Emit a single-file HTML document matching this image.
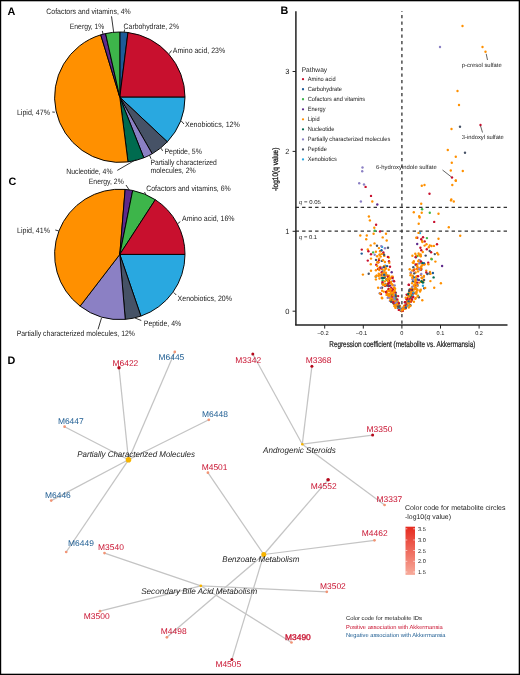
<!DOCTYPE html>
<html><head><meta charset="utf-8"><title>Figure</title>
<style>
html,body{margin:0;padding:0;background:#fff;}
body{width:520px;height:675px;overflow:hidden;position:relative;}
svg{position:absolute;left:0;top:0;font-family:"Liberation Sans", sans-serif;will-change:transform;text-rendering:geometricPrecision;}
</style></head>
<body>
<svg width="520" height="675" viewBox="0 0 520 675" fill="#222">
<rect x="0" y="0" width="520" height="675" fill="#fff"/>
<path d="M119.80,97.20 L119.80,32.00 A65.2,65.2 0 0 1 127.97,32.51 Z" fill="#1d5b98" stroke="#000" stroke-width="0.95" stroke-linejoin="round"/>
<path d="M119.80,97.20 L127.97,32.51 A65.2,65.2 0 0 1 185.00,97.20 Z" fill="#c8102e" stroke="#000" stroke-width="0.95" stroke-linejoin="round"/>
<path d="M119.80,97.20 L185.00,97.20 A65.2,65.2 0 0 1 167.33,141.83 Z" fill="#29a8e0" stroke="#000" stroke-width="0.95" stroke-linejoin="round"/>
<path d="M119.80,97.20 L167.33,141.83 A65.2,65.2 0 0 1 152.20,153.78 Z" fill="#465266" stroke="#000" stroke-width="0.95" stroke-linejoin="round"/>
<path d="M119.80,97.20 L152.20,153.78 A65.2,65.2 0 0 1 143.80,157.82 Z" fill="#8b80c4" stroke="#000" stroke-width="0.95" stroke-linejoin="round"/>
<path d="M119.80,97.20 L143.80,157.82 A65.2,65.2 0 0 1 127.97,161.89 Z" fill="#006b4f" stroke="#000" stroke-width="0.95" stroke-linejoin="round"/>
<path d="M119.80,97.20 L127.97,161.89 A65.2,65.2 0 0 1 100.74,34.85 Z" fill="#ff9000" stroke="#000" stroke-width="0.95" stroke-linejoin="round"/>
<path d="M119.80,97.20 L100.74,34.85 A65.2,65.2 0 0 1 105.58,33.57 Z" fill="#5e2a8c" stroke="#000" stroke-width="0.95" stroke-linejoin="round"/>
<path d="M119.80,97.20 L105.58,33.57 A65.2,65.2 0 0 1 119.80,32.00 Z" fill="#3db54a" stroke="#000" stroke-width="0.95" stroke-linejoin="round"/>
<text x="46.30" y="13.60" font-size="7.8" textLength="84.50" lengthAdjust="spacingAndGlyphs">Cofactors and vitamins, 4%</text>
<text x="69.80" y="28.70" font-size="7.8" textLength="34.60" lengthAdjust="spacingAndGlyphs">Energy, 1%</text>
<text x="123.60" y="28.70" font-size="7.8" textLength="55.40" lengthAdjust="spacingAndGlyphs">Carbohydrate, 2%</text>
<text x="172.80" y="52.70" font-size="7.8" textLength="52.30" lengthAdjust="spacingAndGlyphs">Amino acid, 23%</text>
<text x="184.90" y="127.40" font-size="7.8" textLength="55.00" lengthAdjust="spacingAndGlyphs">Xenobiotics, 12%</text>
<text x="164.40" y="154.30" font-size="7.8" textLength="37.50" lengthAdjust="spacingAndGlyphs">Peptide, 5%</text>
<text x="150.40" y="164.60" font-size="7.8" textLength="66.40" lengthAdjust="spacingAndGlyphs">Partially characterized</text>
<text x="150.40" y="173.20" font-size="7.8" textLength="45.40" lengthAdjust="spacingAndGlyphs">molecules, 2%</text>
<text x="66.20" y="173.70" font-size="7.8" textLength="46.40" lengthAdjust="spacingAndGlyphs">Nucleotide, 4%</text>
<text x="16.90" y="114.90" font-size="7.8" textLength="33.10" lengthAdjust="spacingAndGlyphs">Lipid, 47%</text>
<line x1="111.50" y1="16.30" x2="113.70" y2="32.50" stroke="#111" stroke-width="0.85"/>
<line x1="102.30" y1="30.90" x2="103.00" y2="34.00" stroke="#111" stroke-width="0.85"/>
<line x1="124.60" y1="29.50" x2="124.10" y2="32.30" stroke="#111" stroke-width="0.85"/>
<line x1="169.20" y1="53.70" x2="171.50" y2="50.50" stroke="#111" stroke-width="0.85"/>
<line x1="181.30" y1="121.00" x2="184.00" y2="124.00" stroke="#111" stroke-width="0.85"/>
<line x1="161.20" y1="148.30" x2="162.60" y2="150.90" stroke="#111" stroke-width="0.85"/>
<line x1="149.60" y1="155.20" x2="151.00" y2="158.80" stroke="#111" stroke-width="0.85"/>
<line x1="117.30" y1="170.40" x2="135.60" y2="159.80" stroke="#111" stroke-width="0.85"/>
<line x1="52.30" y1="112.00" x2="54.80" y2="112.20" stroke="#111" stroke-width="0.85"/>
<path d="M119.80,254.40 L185.00,254.40 A65.2,65.2 0 0 1 140.92,316.08 Z" fill="#29a8e0" stroke="#000" stroke-width="0.95" stroke-linejoin="round"/>
<path d="M119.80,254.40 L140.92,316.08 A65.2,65.2 0 0 1 125.26,319.37 Z" fill="#465266" stroke="#000" stroke-width="0.95" stroke-linejoin="round"/>
<path d="M119.80,254.40 L125.26,319.37 A65.2,65.2 0 0 1 80.11,306.13 Z" fill="#8b80c4" stroke="#000" stroke-width="0.95" stroke-linejoin="round"/>
<path d="M119.80,254.40 L80.11,306.13 A65.2,65.2 0 0 1 125.14,189.42 Z" fill="#ff9000" stroke="#000" stroke-width="0.95" stroke-linejoin="round"/>
<path d="M119.80,254.40 L125.14,189.42 A65.2,65.2 0 0 1 132.69,190.49 Z" fill="#5e2a8c" stroke="#000" stroke-width="0.95" stroke-linejoin="round"/>
<path d="M119.80,254.40 L132.69,190.49 A65.2,65.2 0 0 1 155.31,199.72 Z" fill="#3db54a" stroke="#000" stroke-width="0.95" stroke-linejoin="round"/>
<path d="M119.80,254.40 L155.31,199.72 A65.2,65.2 0 0 1 185.00,254.40 Z" fill="#c8102e" stroke="#000" stroke-width="0.95" stroke-linejoin="round"/>
<text x="88.75" y="184.40" font-size="7.8" textLength="35.00" lengthAdjust="spacingAndGlyphs">Energy, 2%</text>
<text x="146.25" y="190.60" font-size="7.8" textLength="84.50" lengthAdjust="spacingAndGlyphs">Cofactors and vitamins, 6%</text>
<text x="182.00" y="221.20" font-size="7.8" textLength="52.50" lengthAdjust="spacingAndGlyphs">Amino acid, 16%</text>
<text x="17.00" y="232.60" font-size="7.8" textLength="33.00" lengthAdjust="spacingAndGlyphs">Lipid, 41%</text>
<text x="177.50" y="300.90" font-size="7.8" textLength="54.50" lengthAdjust="spacingAndGlyphs">Xenobiotics, 20%</text>
<text x="143.75" y="325.60" font-size="7.8" textLength="37.50" lengthAdjust="spacingAndGlyphs">Peptide, 4%</text>
<text x="16.70" y="336.40" font-size="7.8" textLength="118.30" lengthAdjust="spacingAndGlyphs">Partially characterized molecules, 12%</text>
<line x1="126.00" y1="185.00" x2="129.40" y2="190.20" stroke="#111" stroke-width="0.85"/>
<line x1="144.50" y1="192.00" x2="145.80" y2="194.60" stroke="#111" stroke-width="0.85"/>
<line x1="177.80" y1="223.60" x2="180.30" y2="221.60" stroke="#111" stroke-width="0.85"/>
<line x1="55.30" y1="230.00" x2="58.70" y2="230.90" stroke="#111" stroke-width="0.85"/>
<line x1="173.75" y1="292.50" x2="176.25" y2="295.00" stroke="#111" stroke-width="0.85"/>
<line x1="135.00" y1="318.00" x2="141.25" y2="320.50" stroke="#111" stroke-width="0.85"/>
<line x1="101.50" y1="317.90" x2="98.00" y2="329.40" stroke="#111" stroke-width="0.85"/>
<text x="7.60" y="14.60" font-size="10.8" fill="#000" font-weight="bold">A</text>
<text x="280.40" y="14.20" font-size="10.8" fill="#000" font-weight="bold">B</text>
<text x="8.60" y="185.00" font-size="10.8" fill="#000" font-weight="bold">C</text>
<text x="7.50" y="363.50" font-size="10.8" fill="#000" font-weight="bold">D</text>
<line x1="401.90" y1="10.90" x2="401.90" y2="324.50" stroke="#3a3a3a" stroke-width="1.35" stroke-dasharray="3.2,3.3" stroke-dashoffset="2.3"/>
<line x1="295.60" y1="207.30" x2="507.50" y2="207.30" stroke="#333" stroke-width="1.3" stroke-dasharray="3.4,3.1"/>
<line x1="295.60" y1="231.20" x2="507.50" y2="231.20" stroke="#333" stroke-width="1.3" stroke-dasharray="3.4,3.1"/>
<g><circle cx="395.3" cy="297.7" r="1.2" fill="#ff9000"/><circle cx="386.5" cy="279.6" r="1.2" fill="#ff9000"/><circle cx="390.0" cy="266.8" r="1.2" fill="#c8102e"/><circle cx="388.8" cy="257.5" r="1.2" fill="#ff9000"/><circle cx="388.6" cy="280.4" r="1.2" fill="#ff9000"/><circle cx="395.0" cy="298.0" r="1.2" fill="#c8102e"/><circle cx="392.0" cy="296.9" r="1.2" fill="#ff9000"/><circle cx="375.9" cy="276.7" r="1.2" fill="#29a8e0"/><circle cx="384.2" cy="277.6" r="1.2" fill="#8b80c4"/><circle cx="395.8" cy="296.7" r="1.2" fill="#ff9000"/><circle cx="371.0" cy="254.2" r="1.2" fill="#c8102e"/><circle cx="388.5" cy="294.4" r="1.2" fill="#ff9000"/><circle cx="397.9" cy="301.4" r="1.2" fill="#ff9000"/><circle cx="389.9" cy="300.9" r="1.2" fill="#8b80c4"/><circle cx="387.0" cy="291.4" r="1.2" fill="#ff9000"/><circle cx="393.3" cy="298.0" r="1.2" fill="#ff9000"/><circle cx="401.2" cy="310.7" r="1.2" fill="#ff9000"/><circle cx="382.1" cy="246.9" r="1.2" fill="#29a8e0"/><circle cx="380.4" cy="266.9" r="1.2" fill="#ff9000"/><circle cx="388.8" cy="290.9" r="1.2" fill="#ff9000"/><circle cx="400.8" cy="309.8" r="1.2" fill="#ff9000"/><circle cx="394.0" cy="303.9" r="1.2" fill="#ff9000"/><circle cx="383.4" cy="254.1" r="1.2" fill="#ff9000"/><circle cx="401.0" cy="310.0" r="1.2" fill="#ff9000"/><circle cx="396.2" cy="302.4" r="1.2" fill="#465266"/><circle cx="379.3" cy="270.0" r="1.2" fill="#ff9000"/><circle cx="397.8" cy="307.8" r="1.2" fill="#1d5b98"/><circle cx="386.8" cy="279.2" r="1.2" fill="#ff9000"/><circle cx="393.2" cy="291.0" r="1.2" fill="#ff9000"/><circle cx="392.9" cy="285.3" r="1.2" fill="#ff9000"/><circle cx="388.3" cy="297.2" r="1.2" fill="#ff9000"/><circle cx="399.0" cy="307.4" r="1.2" fill="#c8102e"/><circle cx="395.8" cy="292.7" r="1.2" fill="#465266"/><circle cx="386.8" cy="293.6" r="1.2" fill="#c8102e"/><circle cx="388.8" cy="280.4" r="1.2" fill="#c8102e"/><circle cx="374.5" cy="243.4" r="1.2" fill="#ff9000"/><circle cx="401.3" cy="310.4" r="1.2" fill="#ff9000"/><circle cx="392.0" cy="284.2" r="1.2" fill="#ff9000"/><circle cx="376.2" cy="264.7" r="1.2" fill="#c8102e"/><circle cx="391.4" cy="290.3" r="1.2" fill="#ff9000"/><circle cx="386.4" cy="292.0" r="1.2" fill="#c8102e"/><circle cx="385.5" cy="274.5" r="1.2" fill="#c8102e"/><circle cx="381.3" cy="246.1" r="1.2" fill="#8b80c4"/><circle cx="388.1" cy="280.9" r="1.2" fill="#ff9000"/><circle cx="391.9" cy="301.4" r="1.2" fill="#c8102e"/><circle cx="382.7" cy="271.1" r="1.2" fill="#29a8e0"/><circle cx="389.4" cy="294.1" r="1.2" fill="#ff9000"/><circle cx="399.3" cy="307.0" r="1.2" fill="#1d5b98"/><circle cx="367.8" cy="249.5" r="1.2" fill="#ff9000"/><circle cx="378.8" cy="273.7" r="1.2" fill="#ff9000"/><circle cx="396.1" cy="301.1" r="1.2" fill="#ff9000"/><circle cx="393.7" cy="299.6" r="1.2" fill="#ff9000"/><circle cx="400.0" cy="306.3" r="1.2" fill="#ff9000"/><circle cx="391.7" cy="296.3" r="1.2" fill="#c8102e"/><circle cx="371.0" cy="258.6" r="1.2" fill="#ff9000"/><circle cx="377.3" cy="262.2" r="1.2" fill="#ff9000"/><circle cx="386.6" cy="279.8" r="1.2" fill="#3db54a"/><circle cx="362.9" cy="274.6" r="1.2" fill="#ff9000"/><circle cx="384.8" cy="281.4" r="1.2" fill="#ff9000"/><circle cx="393.2" cy="299.0" r="1.2" fill="#c8102e"/><circle cx="378.3" cy="262.2" r="1.2" fill="#c8102e"/><circle cx="381.8" cy="260.9" r="1.2" fill="#465266"/><circle cx="394.4" cy="303.3" r="1.2" fill="#c8102e"/><circle cx="386.7" cy="240.5" r="1.2" fill="#ff9000"/><circle cx="399.1" cy="305.7" r="1.2" fill="#ff9000"/><circle cx="401.8" cy="311.0" r="1.2" fill="#ff9000"/><circle cx="399.9" cy="308.5" r="1.2" fill="#ff9000"/><circle cx="398.1" cy="296.1" r="1.2" fill="#c8102e"/><circle cx="398.3" cy="306.3" r="1.2" fill="#ff9000"/><circle cx="394.8" cy="301.1" r="1.2" fill="#ff9000"/><circle cx="382.7" cy="280.4" r="1.2" fill="#3db54a"/><circle cx="386.3" cy="275.0" r="1.2" fill="#1d5b98"/><circle cx="384.6" cy="285.6" r="1.2" fill="#465266"/><circle cx="389.9" cy="290.6" r="1.2" fill="#8b80c4"/><circle cx="382.7" cy="237.4" r="1.2" fill="#ff9000"/><circle cx="393.0" cy="299.7" r="1.2" fill="#ff9000"/><circle cx="387.5" cy="285.4" r="1.2" fill="#ff9000"/><circle cx="385.3" cy="284.4" r="1.2" fill="#1d5b98"/><circle cx="386.9" cy="284.6" r="1.2" fill="#ff9000"/><circle cx="398.2" cy="302.7" r="1.2" fill="#ff9000"/><circle cx="395.9" cy="299.0" r="1.2" fill="#ff9000"/><circle cx="392.4" cy="294.6" r="1.2" fill="#5e2a8c"/><circle cx="384.5" cy="270.8" r="1.2" fill="#ff9000"/><circle cx="397.3" cy="306.1" r="1.2" fill="#ff9000"/><circle cx="382.3" cy="283.4" r="1.2" fill="#1d5b98"/><circle cx="397.0" cy="305.7" r="1.2" fill="#ff9000"/><circle cx="379.7" cy="293.3" r="1.2" fill="#8b80c4"/><circle cx="385.3" cy="266.5" r="1.2" fill="#ff9000"/><circle cx="391.7" cy="300.4" r="1.2" fill="#ff9000"/><circle cx="397.5" cy="305.3" r="1.2" fill="#c8102e"/><circle cx="371.0" cy="270.7" r="1.2" fill="#ff9000"/><circle cx="384.9" cy="285.1" r="1.2" fill="#c8102e"/><circle cx="385.2" cy="276.5" r="1.2" fill="#ff9000"/><circle cx="389.7" cy="290.8" r="1.2" fill="#ff9000"/><circle cx="394.9" cy="298.2" r="1.2" fill="#c8102e"/><circle cx="399.3" cy="308.5" r="1.2" fill="#ff9000"/><circle cx="376.0" cy="259.9" r="1.2" fill="#465266"/><circle cx="396.7" cy="303.9" r="1.2" fill="#1d5b98"/><circle cx="388.8" cy="269.7" r="1.2" fill="#ff9000"/><circle cx="394.7" cy="285.4" r="1.2" fill="#8b80c4"/><circle cx="380.3" cy="251.1" r="1.2" fill="#c8102e"/><circle cx="387.9" cy="283.7" r="1.2" fill="#ff9000"/><circle cx="387.4" cy="291.3" r="1.2" fill="#ff9000"/><circle cx="389.6" cy="278.8" r="1.2" fill="#ff9000"/><circle cx="393.6" cy="296.9" r="1.2" fill="#1d5b98"/><circle cx="383.3" cy="284.7" r="1.2" fill="#ff9000"/><circle cx="400.5" cy="310.6" r="1.2" fill="#ff9000"/><circle cx="394.4" cy="297.2" r="1.2" fill="#ff9000"/><circle cx="387.8" cy="275.8" r="1.2" fill="#ff9000"/><circle cx="385.2" cy="265.8" r="1.2" fill="#29a8e0"/><circle cx="395.5" cy="307.9" r="1.2" fill="#ff9000"/><circle cx="393.4" cy="280.8" r="1.2" fill="#ff9000"/><circle cx="388.7" cy="286.1" r="1.2" fill="#465266"/><circle cx="391.2" cy="291.0" r="1.2" fill="#ff9000"/><circle cx="390.1" cy="283.3" r="1.2" fill="#ff9000"/><circle cx="396.0" cy="301.8" r="1.2" fill="#ff9000"/><circle cx="389.7" cy="298.0" r="1.2" fill="#ff9000"/><circle cx="394.7" cy="302.2" r="1.2" fill="#ff9000"/><circle cx="392.9" cy="299.2" r="1.2" fill="#ff9000"/><circle cx="392.1" cy="301.9" r="1.2" fill="#ff9000"/><circle cx="401.5" cy="310.6" r="1.2" fill="#465266"/><circle cx="377.1" cy="256.3" r="1.2" fill="#ff9000"/><circle cx="384.3" cy="255.9" r="1.2" fill="#ff9000"/><circle cx="381.6" cy="274.8" r="1.2" fill="#5e2a8c"/><circle cx="382.1" cy="298.3" r="1.2" fill="#ff9000"/><circle cx="386.6" cy="284.7" r="1.2" fill="#ff9000"/><circle cx="393.5" cy="303.2" r="1.2" fill="#465266"/><circle cx="382.8" cy="284.5" r="1.2" fill="#ff9000"/><circle cx="389.0" cy="275.8" r="1.2" fill="#ff9000"/><circle cx="393.7" cy="299.1" r="1.2" fill="#ff9000"/><circle cx="391.1" cy="281.8" r="1.2" fill="#ff9000"/><circle cx="379.0" cy="269.0" r="1.2" fill="#c8102e"/><circle cx="393.0" cy="294.0" r="1.2" fill="#ff9000"/><circle cx="386.3" cy="285.0" r="1.2" fill="#ff9000"/><circle cx="387.1" cy="266.1" r="1.2" fill="#1d5b98"/><circle cx="391.0" cy="294.3" r="1.2" fill="#006b4f"/><circle cx="398.4" cy="307.2" r="1.2" fill="#ff9000"/><circle cx="392.6" cy="301.6" r="1.2" fill="#ff9000"/><circle cx="384.1" cy="254.7" r="1.2" fill="#465266"/><circle cx="395.2" cy="298.6" r="1.2" fill="#29a8e0"/><circle cx="394.1" cy="291.6" r="1.2" fill="#ff9000"/><circle cx="396.6" cy="301.5" r="1.2" fill="#8b80c4"/><circle cx="375.9" cy="251.7" r="1.2" fill="#ff9000"/><circle cx="378.2" cy="262.3" r="1.2" fill="#ff9000"/><circle cx="387.7" cy="297.8" r="1.2" fill="#8b80c4"/><circle cx="377.2" cy="266.0" r="1.2" fill="#ff9000"/><circle cx="385.9" cy="268.3" r="1.2" fill="#ff9000"/><circle cx="378.9" cy="260.0" r="1.2" fill="#c8102e"/><circle cx="368.7" cy="273.8" r="1.2" fill="#465266"/><circle cx="383.0" cy="283.2" r="1.2" fill="#ff9000"/><circle cx="393.6" cy="298.5" r="1.2" fill="#ff9000"/><circle cx="391.3" cy="287.8" r="1.2" fill="#c8102e"/><circle cx="395.6" cy="302.6" r="1.2" fill="#8b80c4"/><circle cx="395.6" cy="298.7" r="1.2" fill="#3db54a"/><circle cx="394.9" cy="292.4" r="1.2" fill="#c8102e"/><circle cx="390.3" cy="297.7" r="1.2" fill="#8b80c4"/><circle cx="394.7" cy="302.5" r="1.2" fill="#c8102e"/><circle cx="384.6" cy="277.7" r="1.2" fill="#465266"/><circle cx="366.2" cy="239.2" r="1.2" fill="#ff9000"/><circle cx="401.4" cy="310.2" r="1.2" fill="#465266"/><circle cx="380.1" cy="251.3" r="1.2" fill="#ff9000"/><circle cx="388.0" cy="276.8" r="1.2" fill="#c8102e"/><circle cx="392.1" cy="302.1" r="1.2" fill="#ff9000"/><circle cx="379.5" cy="254.7" r="1.2" fill="#ff9000"/><circle cx="386.0" cy="233.7" r="1.2" fill="#ff9000"/><circle cx="382.4" cy="269.2" r="1.2" fill="#ff9000"/><circle cx="391.7" cy="290.9" r="1.2" fill="#c8102e"/><circle cx="394.1" cy="287.8" r="1.2" fill="#ff9000"/><circle cx="391.7" cy="296.7" r="1.2" fill="#ff9000"/><circle cx="375.9" cy="270.3" r="1.2" fill="#ff9000"/><circle cx="396.0" cy="304.9" r="1.2" fill="#29a8e0"/><circle cx="378.5" cy="276.0" r="1.2" fill="#ff9000"/><circle cx="395.9" cy="304.2" r="1.2" fill="#ff9000"/><circle cx="382.0" cy="277.5" r="1.2" fill="#ff9000"/><circle cx="381.0" cy="294.0" r="1.2" fill="#c8102e"/><circle cx="390.6" cy="292.0" r="1.2" fill="#ff9000"/><circle cx="389.3" cy="285.9" r="1.2" fill="#c8102e"/><circle cx="392.9" cy="289.2" r="1.2" fill="#c8102e"/><circle cx="386.0" cy="274.5" r="1.2" fill="#29a8e0"/><circle cx="392.8" cy="276.8" r="1.2" fill="#ff9000"/><circle cx="381.7" cy="272.2" r="1.2" fill="#c8102e"/><circle cx="396.2" cy="296.2" r="1.2" fill="#ff9000"/><circle cx="379.7" cy="254.8" r="1.2" fill="#ff9000"/><circle cx="393.4" cy="292.2" r="1.2" fill="#ff9000"/><circle cx="399.4" cy="305.7" r="1.2" fill="#465266"/><circle cx="389.1" cy="289.1" r="1.2" fill="#29a8e0"/><circle cx="395.3" cy="301.7" r="1.2" fill="#ff9000"/><circle cx="386.6" cy="294.9" r="1.2" fill="#ff9000"/><circle cx="391.0" cy="289.4" r="1.2" fill="#ff9000"/><circle cx="380.0" cy="267.6" r="1.2" fill="#c8102e"/><circle cx="387.7" cy="294.7" r="1.2" fill="#ff9000"/><circle cx="391.7" cy="276.8" r="1.2" fill="#ff9000"/><circle cx="378.1" cy="287.8" r="1.2" fill="#ff9000"/><circle cx="392.3" cy="297.1" r="1.2" fill="#c8102e"/><circle cx="370.7" cy="245.4" r="1.2" fill="#ff9000"/><circle cx="399.6" cy="306.9" r="1.2" fill="#ff9000"/><circle cx="398.0" cy="303.6" r="1.2" fill="#465266"/><circle cx="393.0" cy="280.6" r="1.2" fill="#8b80c4"/><circle cx="384.2" cy="266.2" r="1.2" fill="#ff9000"/><circle cx="395.7" cy="302.9" r="1.2" fill="#8b80c4"/><circle cx="401.6" cy="310.6" r="1.2" fill="#ff9000"/><circle cx="389.0" cy="261.2" r="1.2" fill="#c8102e"/><circle cx="401.3" cy="309.9" r="1.2" fill="#ff9000"/><circle cx="361.8" cy="249.6" r="1.2" fill="#c8102e"/><circle cx="394.2" cy="287.8" r="1.2" fill="#ff9000"/><circle cx="389.8" cy="289.0" r="1.2" fill="#ff9000"/><circle cx="390.8" cy="282.9" r="1.2" fill="#ff9000"/><circle cx="396.0" cy="296.3" r="1.2" fill="#465266"/><circle cx="391.2" cy="299.3" r="1.2" fill="#006b4f"/><circle cx="388.5" cy="289.0" r="1.2" fill="#c8102e"/><circle cx="388.1" cy="283.8" r="1.2" fill="#c8102e"/><circle cx="384.9" cy="262.0" r="1.2" fill="#ff9000"/><circle cx="378.0" cy="268.9" r="1.2" fill="#c8102e"/><circle cx="395.8" cy="294.8" r="1.2" fill="#ff9000"/><circle cx="377.0" cy="245.8" r="1.2" fill="#465266"/><circle cx="383.7" cy="275.5" r="1.2" fill="#ff9000"/><circle cx="385.9" cy="272.8" r="1.2" fill="#ff9000"/><circle cx="400.3" cy="308.8" r="1.2" fill="#ff9000"/><circle cx="400.3" cy="309.3" r="1.2" fill="#c8102e"/><circle cx="386.3" cy="274.6" r="1.2" fill="#ff9000"/><circle cx="387.0" cy="279.1" r="1.2" fill="#ff9000"/><circle cx="387.2" cy="285.6" r="1.2" fill="#465266"/><circle cx="395.4" cy="295.3" r="1.2" fill="#1d5b98"/><circle cx="373.1" cy="252.4" r="1.2" fill="#3db54a"/><circle cx="367.8" cy="260.6" r="1.2" fill="#c8102e"/><circle cx="394.3" cy="299.3" r="1.2" fill="#8b80c4"/><circle cx="401.7" cy="311.0" r="1.2" fill="#ff9000"/><circle cx="388.0" cy="247.7" r="1.2" fill="#465266"/><circle cx="389.3" cy="262.8" r="1.2" fill="#ff9000"/><circle cx="383.4" cy="252.4" r="1.2" fill="#c8102e"/><circle cx="382.3" cy="273.7" r="1.2" fill="#ff9000"/><circle cx="385.0" cy="248.2" r="1.2" fill="#8b80c4"/><circle cx="378.8" cy="268.7" r="1.2" fill="#ff9000"/><circle cx="375.9" cy="279.4" r="1.2" fill="#ff9000"/><circle cx="398.2" cy="306.1" r="1.2" fill="#ff9000"/><circle cx="383.8" cy="272.6" r="1.2" fill="#ff9000"/><circle cx="378.9" cy="248.1" r="1.2" fill="#ff9000"/><circle cx="390.9" cy="298.5" r="1.2" fill="#ff9000"/><circle cx="397.3" cy="299.4" r="1.2" fill="#c8102e"/><circle cx="391.7" cy="272.3" r="1.2" fill="#5e2a8c"/><circle cx="398.0" cy="306.6" r="1.2" fill="#465266"/><circle cx="381.5" cy="250.2" r="1.2" fill="#1d5b98"/><circle cx="379.8" cy="274.4" r="1.2" fill="#ff9000"/><circle cx="389.4" cy="295.7" r="1.2" fill="#ff9000"/><circle cx="395.5" cy="306.5" r="1.2" fill="#ff9000"/><circle cx="394.7" cy="291.0" r="1.2" fill="#ff9000"/><circle cx="383.0" cy="260.3" r="1.2" fill="#ff9000"/><circle cx="390.6" cy="278.4" r="1.2" fill="#ff9000"/><circle cx="381.9" cy="297.6" r="1.2" fill="#ff9000"/><circle cx="380.1" cy="293.4" r="1.2" fill="#ff9000"/><circle cx="381.1" cy="268.2" r="1.2" fill="#c8102e"/><circle cx="381.7" cy="253.9" r="1.2" fill="#ff9000"/><circle cx="393.1" cy="302.2" r="1.2" fill="#c8102e"/><circle cx="394.4" cy="305.9" r="1.2" fill="#ff9000"/><circle cx="388.5" cy="290.0" r="1.2" fill="#c8102e"/><circle cx="379.1" cy="258.6" r="1.2" fill="#ff9000"/><circle cx="374.7" cy="254.7" r="1.2" fill="#8b80c4"/><circle cx="389.1" cy="282.5" r="1.2" fill="#c8102e"/><circle cx="401.3" cy="310.8" r="1.2" fill="#465266"/><circle cx="382.0" cy="287.9" r="1.2" fill="#ff9000"/><circle cx="382.7" cy="283.6" r="1.2" fill="#ff9000"/><circle cx="391.1" cy="293.4" r="1.2" fill="#ff9000"/><circle cx="401.0" cy="310.1" r="1.2" fill="#8b80c4"/><circle cx="397.3" cy="304.1" r="1.2" fill="#ff9000"/><circle cx="386.0" cy="291.9" r="1.2" fill="#c8102e"/><circle cx="390.4" cy="300.3" r="1.2" fill="#ff9000"/><circle cx="392.9" cy="298.6" r="1.2" fill="#ff9000"/><circle cx="379.5" cy="278.5" r="1.2" fill="#ff9000"/><circle cx="381.8" cy="278.0" r="1.2" fill="#1d5b98"/><circle cx="382.2" cy="267.6" r="1.2" fill="#8b80c4"/><circle cx="394.1" cy="281.2" r="1.2" fill="#c8102e"/><circle cx="393.5" cy="295.6" r="1.2" fill="#ff9000"/><circle cx="376.7" cy="275.4" r="1.2" fill="#ff9000"/><circle cx="384.1" cy="266.2" r="1.2" fill="#ff9000"/><circle cx="382.0" cy="287.6" r="1.2" fill="#465266"/><circle cx="382.4" cy="282.1" r="1.2" fill="#c8102e"/><circle cx="390.1" cy="289.7" r="1.2" fill="#ff9000"/><circle cx="380.2" cy="275.6" r="1.2" fill="#ff9000"/><circle cx="385.4" cy="269.0" r="1.2" fill="#ff9000"/><circle cx="394.9" cy="306.5" r="1.2" fill="#ff9000"/><circle cx="370.8" cy="264.2" r="1.2" fill="#ff9000"/><circle cx="394.0" cy="297.8" r="1.2" fill="#8b80c4"/><circle cx="383.0" cy="277.9" r="1.2" fill="#006b4f"/><circle cx="387.9" cy="256.9" r="1.2" fill="#c8102e"/><circle cx="385.2" cy="285.9" r="1.2" fill="#c8102e"/><circle cx="395.1" cy="288.7" r="1.2" fill="#ff9000"/><circle cx="384.8" cy="285.2" r="1.2" fill="#ff9000"/><circle cx="392.6" cy="277.9" r="1.2" fill="#c8102e"/><circle cx="387.6" cy="293.5" r="1.2" fill="#ff9000"/><circle cx="399.6" cy="308.2" r="1.2" fill="#29a8e0"/><circle cx="387.8" cy="281.1" r="1.2" fill="#ff9000"/><circle cx="389.1" cy="277.6" r="1.2" fill="#ff9000"/><circle cx="383.8" cy="291.6" r="1.2" fill="#ff9000"/><circle cx="383.9" cy="267.1" r="1.2" fill="#465266"/><circle cx="391.1" cy="301.8" r="1.2" fill="#465266"/><circle cx="389.5" cy="278.8" r="1.2" fill="#ff9000"/><circle cx="399.0" cy="303.1" r="1.2" fill="#c8102e"/><circle cx="398.8" cy="309.9" r="1.2" fill="#c8102e"/><circle cx="401.8" cy="311.1" r="1.2" fill="#ff9000"/><circle cx="389.9" cy="285.6" r="1.2" fill="#5e2a8c"/><circle cx="380.7" cy="256.6" r="1.2" fill="#ff9000"/><circle cx="399.0" cy="306.8" r="1.2" fill="#465266"/><circle cx="368.4" cy="251.3" r="1.2" fill="#c8102e"/><circle cx="380.8" cy="287.9" r="1.2" fill="#8b80c4"/><circle cx="384.1" cy="274.7" r="1.2" fill="#1d5b98"/><circle cx="388.0" cy="290.9" r="1.2" fill="#ff9000"/><circle cx="390.5" cy="293.7" r="1.2" fill="#ff9000"/><circle cx="388.8" cy="295.3" r="1.2" fill="#ff9000"/><circle cx="375.6" cy="276.5" r="1.2" fill="#ff9000"/><circle cx="382.1" cy="290.8" r="1.2" fill="#ff9000"/><circle cx="425.7" cy="255.6" r="1.2" fill="#465266"/><circle cx="404.3" cy="308.8" r="1.2" fill="#ff9000"/><circle cx="417.3" cy="290.4" r="1.2" fill="#ff9000"/><circle cx="434.2" cy="287.8" r="1.2" fill="#ff9000"/><circle cx="412.8" cy="296.6" r="1.2" fill="#ff9000"/><circle cx="411.3" cy="293.2" r="1.2" fill="#c8102e"/><circle cx="423.9" cy="276.0" r="1.2" fill="#ff9000"/><circle cx="430.4" cy="281.1" r="1.2" fill="#ff9000"/><circle cx="416.0" cy="280.0" r="1.2" fill="#8b80c4"/><circle cx="426.2" cy="270.6" r="1.2" fill="#ff9000"/><circle cx="413.3" cy="297.0" r="1.2" fill="#c8102e"/><circle cx="407.5" cy="300.0" r="1.2" fill="#ff9000"/><circle cx="412.9" cy="291.2" r="1.2" fill="#ff9000"/><circle cx="420.0" cy="233.1" r="1.2" fill="#29a8e0"/><circle cx="408.6" cy="301.7" r="1.2" fill="#c8102e"/><circle cx="417.2" cy="269.2" r="1.2" fill="#ff9000"/><circle cx="430.0" cy="271.9" r="1.2" fill="#ff9000"/><circle cx="423.6" cy="264.4" r="1.2" fill="#ff9000"/><circle cx="431.3" cy="258.8" r="1.2" fill="#ff9000"/><circle cx="415.2" cy="282.0" r="1.2" fill="#ff9000"/><circle cx="415.9" cy="257.3" r="1.2" fill="#1d5b98"/><circle cx="411.1" cy="296.2" r="1.2" fill="#465266"/><circle cx="415.5" cy="265.1" r="1.2" fill="#29a8e0"/><circle cx="412.1" cy="287.5" r="1.2" fill="#ff9000"/><circle cx="407.4" cy="301.4" r="1.2" fill="#ff9000"/><circle cx="402.3" cy="310.9" r="1.2" fill="#c8102e"/><circle cx="405.9" cy="305.7" r="1.2" fill="#006b4f"/><circle cx="420.3" cy="263.0" r="1.2" fill="#ff9000"/><circle cx="405.8" cy="308.4" r="1.2" fill="#ff9000"/><circle cx="410.7" cy="272.9" r="1.2" fill="#ff9000"/><circle cx="414.5" cy="289.1" r="1.2" fill="#c8102e"/><circle cx="417.4" cy="284.9" r="1.2" fill="#1d5b98"/><circle cx="417.7" cy="268.3" r="1.2" fill="#c8102e"/><circle cx="415.5" cy="282.4" r="1.2" fill="#ff9000"/><circle cx="417.9" cy="268.5" r="1.2" fill="#ff9000"/><circle cx="424.2" cy="288.3" r="1.2" fill="#465266"/><circle cx="410.6" cy="298.9" r="1.2" fill="#ff9000"/><circle cx="409.1" cy="302.8" r="1.2" fill="#3db54a"/><circle cx="428.2" cy="262.8" r="1.2" fill="#c8102e"/><circle cx="413.9" cy="285.7" r="1.2" fill="#ff9000"/><circle cx="404.3" cy="306.3" r="1.2" fill="#c8102e"/><circle cx="421.7" cy="277.6" r="1.2" fill="#ff9000"/><circle cx="406.3" cy="302.7" r="1.2" fill="#ff9000"/><circle cx="415.1" cy="284.5" r="1.2" fill="#ff9000"/><circle cx="410.5" cy="275.2" r="1.2" fill="#ff9000"/><circle cx="426.8" cy="249.2" r="1.2" fill="#c8102e"/><circle cx="409.2" cy="305.5" r="1.2" fill="#29a8e0"/><circle cx="412.8" cy="289.4" r="1.2" fill="#ff9000"/><circle cx="402.9" cy="309.8" r="1.2" fill="#8b80c4"/><circle cx="412.6" cy="279.2" r="1.2" fill="#8b80c4"/><circle cx="407.0" cy="300.9" r="1.2" fill="#ff9000"/><circle cx="412.8" cy="262.6" r="1.2" fill="#ff9000"/><circle cx="418.9" cy="260.3" r="1.2" fill="#ff9000"/><circle cx="410.7" cy="291.6" r="1.2" fill="#ff9000"/><circle cx="407.9" cy="301.0" r="1.2" fill="#ff9000"/><circle cx="410.4" cy="305.3" r="1.2" fill="#465266"/><circle cx="412.4" cy="295.0" r="1.2" fill="#ff9000"/><circle cx="416.7" cy="276.2" r="1.2" fill="#ff9000"/><circle cx="406.2" cy="304.7" r="1.2" fill="#ff9000"/><circle cx="410.9" cy="296.1" r="1.2" fill="#ff9000"/><circle cx="402.0" cy="310.8" r="1.2" fill="#ff9000"/><circle cx="411.8" cy="300.7" r="1.2" fill="#ff9000"/><circle cx="410.6" cy="299.7" r="1.2" fill="#c8102e"/><circle cx="418.0" cy="276.2" r="1.2" fill="#c8102e"/><circle cx="413.9" cy="301.8" r="1.2" fill="#ff9000"/><circle cx="417.2" cy="264.2" r="1.2" fill="#ff9000"/><circle cx="415.3" cy="253.7" r="1.2" fill="#ff9000"/><circle cx="440.9" cy="283.2" r="1.2" fill="#ff9000"/><circle cx="402.1" cy="310.8" r="1.2" fill="#ff9000"/><circle cx="404.9" cy="306.7" r="1.2" fill="#ff9000"/><circle cx="410.9" cy="273.5" r="1.2" fill="#ff9000"/><circle cx="423.8" cy="276.7" r="1.2" fill="#ff9000"/><circle cx="404.8" cy="306.4" r="1.2" fill="#c8102e"/><circle cx="417.8" cy="285.6" r="1.2" fill="#8b80c4"/><circle cx="423.2" cy="282.4" r="1.2" fill="#006b4f"/><circle cx="404.6" cy="305.6" r="1.2" fill="#ff9000"/><circle cx="431.5" cy="246.0" r="1.2" fill="#ff9000"/><circle cx="420.8" cy="274.9" r="1.2" fill="#ff9000"/><circle cx="421.3" cy="269.5" r="1.2" fill="#29a8e0"/><circle cx="406.3" cy="306.5" r="1.2" fill="#c8102e"/><circle cx="415.3" cy="285.6" r="1.2" fill="#c8102e"/><circle cx="417.4" cy="255.9" r="1.2" fill="#3db54a"/><circle cx="414.8" cy="289.2" r="1.2" fill="#ff9000"/><circle cx="420.3" cy="267.7" r="1.2" fill="#ff9000"/><circle cx="404.7" cy="308.8" r="1.2" fill="#ff9000"/><circle cx="416.0" cy="277.2" r="1.2" fill="#ff9000"/><circle cx="410.5" cy="289.1" r="1.2" fill="#ff9000"/><circle cx="433.6" cy="277.4" r="1.2" fill="#006b4f"/><circle cx="412.4" cy="294.9" r="1.2" fill="#29a8e0"/><circle cx="422.0" cy="277.8" r="1.2" fill="#8b80c4"/><circle cx="412.4" cy="255.7" r="1.2" fill="#ff9000"/><circle cx="420.6" cy="269.4" r="1.2" fill="#8b80c4"/><circle cx="411.7" cy="298.8" r="1.2" fill="#8b80c4"/><circle cx="412.0" cy="289.8" r="1.2" fill="#006b4f"/><circle cx="420.8" cy="256.3" r="1.2" fill="#ff9000"/><circle cx="408.6" cy="300.4" r="1.2" fill="#ff9000"/><circle cx="410.8" cy="293.3" r="1.2" fill="#ff9000"/><circle cx="417.3" cy="279.5" r="1.2" fill="#1d5b98"/><circle cx="420.1" cy="291.5" r="1.2" fill="#ff9000"/><circle cx="424.7" cy="241.4" r="1.2" fill="#c8102e"/><circle cx="420.8" cy="289.8" r="1.2" fill="#ff9000"/><circle cx="408.9" cy="292.9" r="1.2" fill="#ff9000"/><circle cx="417.1" cy="266.1" r="1.2" fill="#ff9000"/><circle cx="404.6" cy="308.6" r="1.2" fill="#ff9000"/><circle cx="412.8" cy="276.9" r="1.2" fill="#ff9000"/><circle cx="442.1" cy="266.0" r="1.2" fill="#5e2a8c"/><circle cx="406.2" cy="304.8" r="1.2" fill="#ff9000"/><circle cx="414.6" cy="269.2" r="1.2" fill="#ff9000"/><circle cx="407.2" cy="295.1" r="1.2" fill="#ff9000"/><circle cx="421.3" cy="268.3" r="1.2" fill="#ff9000"/><circle cx="413.3" cy="267.2" r="1.2" fill="#465266"/><circle cx="402.7" cy="310.4" r="1.2" fill="#ff9000"/><circle cx="415.0" cy="292.6" r="1.2" fill="#ff9000"/><circle cx="403.9" cy="306.9" r="1.2" fill="#465266"/><circle cx="415.6" cy="272.5" r="1.2" fill="#ff9000"/><circle cx="424.7" cy="264.1" r="1.2" fill="#ff9000"/><circle cx="411.0" cy="299.3" r="1.2" fill="#465266"/><circle cx="428.8" cy="247.2" r="1.2" fill="#ff9000"/><circle cx="422.4" cy="264.8" r="1.2" fill="#ff9000"/><circle cx="415.8" cy="264.5" r="1.2" fill="#c8102e"/><circle cx="415.2" cy="287.3" r="1.2" fill="#ff9000"/><circle cx="410.5" cy="289.0" r="1.2" fill="#ff9000"/><circle cx="408.8" cy="284.9" r="1.2" fill="#c8102e"/><circle cx="422.1" cy="241.0" r="1.2" fill="#ff9000"/><circle cx="433.9" cy="245.9" r="1.2" fill="#ff9000"/><circle cx="405.8" cy="307.8" r="1.2" fill="#c8102e"/><circle cx="417.2" cy="244.0" r="1.2" fill="#5e2a8c"/><circle cx="426.5" cy="244.2" r="1.2" fill="#ff9000"/><circle cx="402.3" cy="310.7" r="1.2" fill="#8b80c4"/><circle cx="422.1" cy="278.2" r="1.2" fill="#ff9000"/><circle cx="412.9" cy="281.4" r="1.2" fill="#465266"/><circle cx="406.7" cy="303.1" r="1.2" fill="#ff9000"/><circle cx="414.2" cy="285.7" r="1.2" fill="#ff9000"/><circle cx="432.9" cy="273.0" r="1.2" fill="#1d5b98"/><circle cx="419.7" cy="260.3" r="1.2" fill="#8b80c4"/><circle cx="406.5" cy="304.3" r="1.2" fill="#c8102e"/><circle cx="422.3" cy="262.9" r="1.2" fill="#006b4f"/><circle cx="403.8" cy="308.2" r="1.2" fill="#8b80c4"/><circle cx="409.4" cy="299.1" r="1.2" fill="#c8102e"/><circle cx="421.0" cy="281.8" r="1.2" fill="#ff9000"/><circle cx="416.2" cy="255.8" r="1.2" fill="#ff9000"/><circle cx="423.4" cy="280.8" r="1.2" fill="#ff9000"/><circle cx="408.8" cy="303.1" r="1.2" fill="#ff9000"/><circle cx="419.4" cy="263.3" r="1.2" fill="#8b80c4"/><circle cx="418.1" cy="271.4" r="1.2" fill="#ff9000"/><circle cx="410.3" cy="296.7" r="1.2" fill="#465266"/><circle cx="412.1" cy="283.3" r="1.2" fill="#ff9000"/><circle cx="411.4" cy="290.0" r="1.2" fill="#c8102e"/><circle cx="415.3" cy="298.7" r="1.2" fill="#ff9000"/><circle cx="438.2" cy="254.4" r="1.2" fill="#ff9000"/><circle cx="424.4" cy="264.5" r="1.2" fill="#ff9000"/><circle cx="420.1" cy="290.5" r="1.2" fill="#ff9000"/><circle cx="422.3" cy="300.3" r="1.2" fill="#ff9000"/><circle cx="421.4" cy="266.2" r="1.2" fill="#ff9000"/><circle cx="415.7" cy="283.7" r="1.2" fill="#ff9000"/><circle cx="420.4" cy="247.7" r="1.2" fill="#c8102e"/><circle cx="415.6" cy="280.8" r="1.2" fill="#ff9000"/><circle cx="405.0" cy="306.0" r="1.2" fill="#ff9000"/><circle cx="421.3" cy="274.0" r="1.2" fill="#8b80c4"/><circle cx="431.1" cy="252.2" r="1.2" fill="#c8102e"/><circle cx="414.2" cy="273.4" r="1.2" fill="#465266"/><circle cx="418.6" cy="253.5" r="1.2" fill="#ff9000"/><circle cx="410.6" cy="291.7" r="1.2" fill="#ff9000"/><circle cx="417.5" cy="282.6" r="1.2" fill="#c8102e"/><circle cx="409.1" cy="295.9" r="1.2" fill="#465266"/><circle cx="428.4" cy="264.3" r="1.2" fill="#ff9000"/><circle cx="413.6" cy="270.5" r="1.2" fill="#c8102e"/><circle cx="418.9" cy="297.3" r="1.2" fill="#465266"/><circle cx="416.2" cy="288.6" r="1.2" fill="#1d5b98"/><circle cx="416.2" cy="293.8" r="1.2" fill="#ff9000"/><circle cx="408.0" cy="302.6" r="1.2" fill="#ff9000"/><circle cx="422.6" cy="282.3" r="1.2" fill="#006b4f"/><circle cx="403.9" cy="307.4" r="1.2" fill="#c8102e"/><circle cx="415.7" cy="298.0" r="1.2" fill="#ff9000"/><circle cx="417.2" cy="266.3" r="1.2" fill="#ff9000"/><circle cx="412.7" cy="275.7" r="1.2" fill="#ff9000"/><circle cx="415.6" cy="280.5" r="1.2" fill="#ff9000"/><circle cx="420.6" cy="256.0" r="1.2" fill="#ff9000"/><circle cx="406.7" cy="294.6" r="1.2" fill="#c8102e"/><circle cx="434.8" cy="254.1" r="1.2" fill="#465266"/><circle cx="404.6" cy="307.5" r="1.2" fill="#ff9000"/><circle cx="417.2" cy="285.7" r="1.2" fill="#ff9000"/><circle cx="413.9" cy="277.4" r="1.2" fill="#1d5b98"/><circle cx="407.4" cy="305.6" r="1.2" fill="#29a8e0"/><circle cx="405.3" cy="302.5" r="1.2" fill="#29a8e0"/><circle cx="411.0" cy="292.3" r="1.2" fill="#ff9000"/><circle cx="422.9" cy="285.8" r="1.2" fill="#29a8e0"/><circle cx="423.9" cy="263.1" r="1.2" fill="#1d5b98"/><circle cx="425.2" cy="287.9" r="1.2" fill="#ff9000"/><circle cx="412.4" cy="286.8" r="1.2" fill="#8b80c4"/><circle cx="417.4" cy="289.7" r="1.2" fill="#ff9000"/><circle cx="410.7" cy="301.9" r="1.2" fill="#c8102e"/><circle cx="419.2" cy="282.6" r="1.2" fill="#ff9000"/><circle cx="410.9" cy="272.4" r="1.2" fill="#8b80c4"/><circle cx="426.3" cy="272.5" r="1.2" fill="#c8102e"/><circle cx="429.7" cy="250.9" r="1.2" fill="#465266"/><circle cx="409.5" cy="289.7" r="1.2" fill="#465266"/><circle cx="409.7" cy="269.3" r="1.2" fill="#ff9000"/><circle cx="402.5" cy="310.7" r="1.2" fill="#c8102e"/><circle cx="412.5" cy="297.4" r="1.2" fill="#c8102e"/><circle cx="414.9" cy="293.2" r="1.2" fill="#ff9000"/><circle cx="415.6" cy="257.1" r="1.2" fill="#c8102e"/><circle cx="418.9" cy="279.9" r="1.2" fill="#5e2a8c"/><circle cx="437.2" cy="252.9" r="1.2" fill="#ff9000"/><circle cx="414.3" cy="285.1" r="1.2" fill="#ff9000"/><circle cx="407.5" cy="298.0" r="1.2" fill="#c8102e"/><circle cx="421.0" cy="269.6" r="1.2" fill="#c8102e"/><circle cx="421.5" cy="281.3" r="1.2" fill="#006b4f"/><circle cx="437.0" cy="244.3" r="1.2" fill="#c8102e"/><circle cx="420.4" cy="269.4" r="1.2" fill="#c8102e"/><circle cx="409.4" cy="302.3" r="1.2" fill="#ff9000"/><circle cx="406.0" cy="306.5" r="1.2" fill="#ff9000"/><circle cx="402.7" cy="310.6" r="1.2" fill="#c8102e"/><circle cx="421.3" cy="250.3" r="1.2" fill="#c8102e"/><circle cx="413.8" cy="261.2" r="1.2" fill="#ff9000"/><circle cx="413.6" cy="262.9" r="1.2" fill="#ff9000"/><circle cx="406.6" cy="299.3" r="1.2" fill="#c8102e"/><circle cx="424.6" cy="245.6" r="1.2" fill="#ff9000"/><circle cx="413.2" cy="293.3" r="1.2" fill="#c8102e"/><circle cx="431.7" cy="259.3" r="1.2" fill="#3db54a"/><circle cx="404.5" cy="305.7" r="1.2" fill="#ff9000"/><circle cx="408.3" cy="294.0" r="1.2" fill="#006b4f"/><circle cx="416.5" cy="292.0" r="1.2" fill="#ff9000"/><circle cx="424.1" cy="279.9" r="1.2" fill="#465266"/><circle cx="416.0" cy="288.7" r="1.2" fill="#ff9000"/><circle cx="422.8" cy="252.0" r="1.2" fill="#ff9000"/><circle cx="419.3" cy="255.0" r="1.2" fill="#ff9000"/><circle cx="404.6" cy="306.7" r="1.2" fill="#ff9000"/><circle cx="421.0" cy="261.4" r="1.2" fill="#c8102e"/><circle cx="404.4" cy="307.1" r="1.2" fill="#ff9000"/><circle cx="410.9" cy="295.8" r="1.2" fill="#006b4f"/><circle cx="402.2" cy="310.3" r="1.2" fill="#ff9000"/><circle cx="429.5" cy="273.5" r="1.2" fill="#1d5b98"/><circle cx="420.6" cy="254.4" r="1.2" fill="#ff9000"/><circle cx="409.1" cy="302.4" r="1.2" fill="#ff9000"/><circle cx="412.3" cy="277.7" r="1.2" fill="#ff9000"/><circle cx="408.8" cy="284.8" r="1.2" fill="#c8102e"/><circle cx="418.0" cy="295.7" r="1.2" fill="#3db54a"/><circle cx="405.9" cy="305.9" r="1.2" fill="#ff9000"/><circle cx="405.1" cy="302.2" r="1.2" fill="#c8102e"/><circle cx="420.4" cy="269.5" r="1.2" fill="#ff9000"/><circle cx="413.4" cy="292.6" r="1.2" fill="#29a8e0"/><circle cx="408.6" cy="301.4" r="1.2" fill="#1d5b98"/><circle cx="418.3" cy="261.3" r="1.2" fill="#ff9000"/><circle cx="415.5" cy="279.5" r="1.2" fill="#ff9000"/><circle cx="405.2" cy="305.7" r="1.2" fill="#c8102e"/><circle cx="402.9" cy="309.3" r="1.2" fill="#ff9000"/><circle cx="427.3" cy="274.0" r="1.2" fill="#465266"/><circle cx="408.0" cy="303.6" r="1.2" fill="#ff9000"/><circle cx="416.3" cy="292.8" r="1.2" fill="#ff9000"/><circle cx="412.3" cy="270.4" r="1.2" fill="#ff9000"/><circle cx="410.9" cy="300.0" r="1.2" fill="#ff9000"/><circle cx="419.2" cy="269.1" r="1.2" fill="#8b80c4"/><circle cx="403.9" cy="306.6" r="1.2" fill="#ff9000"/><circle cx="405.7" cy="307.1" r="1.2" fill="#ff9000"/><circle cx="409.6" cy="305.7" r="1.2" fill="#ff9000"/><circle cx="422.4" cy="242.0" r="1.2" fill="#ff9000"/><circle cx="409.1" cy="291.0" r="1.2" fill="#465266"/><circle cx="412.0" cy="299.6" r="1.2" fill="#c8102e"/><circle cx="430.5" cy="273.8" r="1.2" fill="#ff9000"/><circle cx="408.6" cy="296.7" r="1.2" fill="#ff9000"/><circle cx="417.7" cy="296.2" r="1.2" fill="#ff9000"/><circle cx="435.4" cy="261.6" r="1.2" fill="#ff9000"/><circle cx="410.3" cy="306.0" r="1.2" fill="#ff9000"/><circle cx="404.9" cy="302.1" r="1.2" fill="#c8102e"/><circle cx="429.8" cy="245.5" r="1.2" fill="#ff9000"/><circle cx="408.8" cy="307.5" r="1.2" fill="#ff9000"/><circle cx="410.3" cy="295.4" r="1.2" fill="#ff9000"/><circle cx="405.8" cy="307.5" r="1.2" fill="#1d5b98"/><circle cx="405.7" cy="297.7" r="1.2" fill="#ff9000"/><circle cx="462.5" cy="26.0" r="1.2" fill="#ff9000"/><circle cx="440.0" cy="47.0" r="1.2" fill="#8b80c4"/><circle cx="482.5" cy="47.0" r="1.2" fill="#ff9000"/><circle cx="485.5" cy="51.8" r="1.2" fill="#ff9000"/><circle cx="457.5" cy="91.0" r="1.2" fill="#ff9000"/><circle cx="459.0" cy="105.0" r="1.2" fill="#ff9000"/><circle cx="460.0" cy="126.8" r="1.2" fill="#465266"/><circle cx="451.5" cy="129.0" r="1.2" fill="#ff9000"/><circle cx="480.5" cy="125.0" r="1.2" fill="#c8102e"/><circle cx="447.8" cy="150.0" r="1.2" fill="#ff9000"/><circle cx="465.0" cy="152.8" r="1.2" fill="#465266"/><circle cx="455.8" cy="156.8" r="1.2" fill="#ff9000"/><circle cx="451.8" cy="162.8" r="1.2" fill="#ff9000"/><circle cx="450.8" cy="170.5" r="1.2" fill="#ff9000"/><circle cx="462.8" cy="171.0" r="1.2" fill="#ff9000"/><circle cx="452.0" cy="177.5" r="1.2" fill="#c8102e"/><circle cx="455.8" cy="180.5" r="1.2" fill="#ff9000"/><circle cx="452.3" cy="185.0" r="1.2" fill="#ff9000"/><circle cx="421.8" cy="185.8" r="1.2" fill="#ff9000"/><circle cx="424.5" cy="185.0" r="1.2" fill="#ff9000"/><circle cx="429.5" cy="193.8" r="1.2" fill="#c8102e"/><circle cx="451.3" cy="199.5" r="1.2" fill="#ff9000"/><circle cx="455.8" cy="180.8" r="1.2" fill="#ff9000"/><circle cx="451.0" cy="200.4" r="1.2" fill="#ff9000"/><circle cx="453.8" cy="201.5" r="1.2" fill="#ff9000"/><circle cx="421.2" cy="203.8" r="1.2" fill="#ff9000"/><circle cx="422.1" cy="209.2" r="1.2" fill="#3db54a"/><circle cx="413.8" cy="212.3" r="1.2" fill="#ff9000"/><circle cx="421.7" cy="212.7" r="1.2" fill="#ff9000"/><circle cx="429.8" cy="212.7" r="1.2" fill="#3db54a"/><circle cx="438.5" cy="213.7" r="1.2" fill="#ff9000"/><circle cx="419.2" cy="216.2" r="1.2" fill="#ff9000"/><circle cx="419.6" cy="217.5" r="1.2" fill="#ff9000"/><circle cx="434.2" cy="221.9" r="1.2" fill="#c8102e"/><circle cx="418.7" cy="223.7" r="1.2" fill="#ff9000"/><circle cx="448.8" cy="227.3" r="1.2" fill="#ff9000"/><circle cx="418.5" cy="232.9" r="1.2" fill="#ff9000"/><circle cx="460.2" cy="235.8" r="1.2" fill="#ff9000"/><circle cx="417.3" cy="237.7" r="1.2" fill="#c8102e"/><circle cx="423.0" cy="237.3" r="1.2" fill="#c8102e"/><circle cx="421.2" cy="239.2" r="1.2" fill="#c8102e"/><circle cx="416.3" cy="237.7" r="1.2" fill="#ff9000"/><circle cx="426.9" cy="238.1" r="1.2" fill="#3db54a"/><circle cx="438.5" cy="238.7" r="1.2" fill="#ff9000"/><circle cx="362.5" cy="167.5" r="1.2" fill="#8b80c4"/><circle cx="362.2" cy="171.3" r="1.2" fill="#8b80c4"/><circle cx="359.2" cy="183.2" r="1.2" fill="#8b80c4"/><circle cx="364.0" cy="184.5" r="1.2" fill="#8b80c4"/><circle cx="365.6" cy="186.9" r="1.2" fill="#c8102e"/><circle cx="371.0" cy="195.9" r="1.2" fill="#c8102e"/><circle cx="360.9" cy="201.5" r="1.2" fill="#8b80c4"/><circle cx="372.3" cy="201.5" r="1.2" fill="#ff9000"/><circle cx="377.3" cy="204.5" r="1.2" fill="#5e2a8c"/><circle cx="368.9" cy="216.5" r="1.2" fill="#ff9000"/><circle cx="369.9" cy="220.4" r="1.2" fill="#ff9000"/><circle cx="376.1" cy="224.7" r="1.2" fill="#c8102e"/><circle cx="374.3" cy="227.8" r="1.2" fill="#ff9000"/><circle cx="374.7" cy="230.8" r="1.2" fill="#3db54a"/><circle cx="380.0" cy="231.4" r="1.2" fill="#c8102e"/><circle cx="373.6" cy="233.8" r="1.2" fill="#ff9000"/><circle cx="361.7" cy="253.6" r="1.2" fill="#1d5b98"/><circle cx="360.3" cy="235.5" r="1.2" fill="#ff9000"/><circle cx="366.8" cy="235.5" r="1.2" fill="#ff9000"/></g>
<line x1="295.90" y1="11.20" x2="295.90" y2="325.20" stroke="#222" stroke-width="1.5"/>
<line x1="295.20" y1="325.00" x2="507.50" y2="325.00" stroke="#222" stroke-width="1.5"/>
<line x1="292.60" y1="311.20" x2="295.90" y2="311.20" stroke="#222" stroke-width="1.0"/>
<text x="289.30" y="313.60" font-size="7.5" text-anchor="end">0</text>
<line x1="292.60" y1="231.30" x2="295.90" y2="231.30" stroke="#222" stroke-width="1.0"/>
<text x="289.30" y="233.70" font-size="7.5" text-anchor="end">1</text>
<line x1="292.60" y1="151.40" x2="295.90" y2="151.40" stroke="#222" stroke-width="1.0"/>
<text x="289.30" y="153.80" font-size="7.5" text-anchor="end">2</text>
<line x1="292.60" y1="71.50" x2="295.90" y2="71.50" stroke="#222" stroke-width="1.0"/>
<text x="289.30" y="73.90" font-size="7.5" text-anchor="end">3</text>
<line x1="324.70" y1="325.00" x2="324.70" y2="328.60" stroke="#222" stroke-width="1.0"/>
<text x="317.40" y="334.90" font-size="5.6" textLength="11.30" lengthAdjust="spacingAndGlyphs">–0.2</text>
<line x1="363.30" y1="325.00" x2="363.30" y2="328.60" stroke="#222" stroke-width="1.0"/>
<text x="356.00" y="334.90" font-size="5.6" textLength="11.30" lengthAdjust="spacingAndGlyphs">–0.1</text>
<line x1="401.90" y1="325.00" x2="401.90" y2="328.60" stroke="#222" stroke-width="1.0"/>
<text x="401.90" y="334.90" font-size="5.6" text-anchor="middle">0</text>
<line x1="440.50" y1="325.00" x2="440.50" y2="328.60" stroke="#222" stroke-width="1.0"/>
<text x="440.50" y="334.90" font-size="5.6" text-anchor="middle">0.1</text>
<line x1="479.10" y1="325.00" x2="479.10" y2="328.60" stroke="#222" stroke-width="1.0"/>
<text x="479.10" y="334.90" font-size="5.6" text-anchor="middle">0.2</text>
<text x="329.30" y="346.50" font-size="8.4" textLength="146.00" lengthAdjust="spacingAndGlyphs" stroke="#222" stroke-width="0.22">Regression coefficient (metabolite vs. Akkermansia)</text>
<text transform="translate(277.8,191.1) rotate(-90)" font-size="8" textLength="43.5" lengthAdjust="spacingAndGlyphs" fill="#222" stroke="#222" stroke-width="0.3">-log10(q value)</text>
<text x="299.1" y="203.8" font-size="5.6" fill="#222" font-style="italic">q</text><text x="304.0" y="203.8" font-size="5.6" fill="#222" textLength="16.9" lengthAdjust="spacingAndGlyphs">= 0.05</text>
<text x="299.1" y="239.0" font-size="5.6" fill="#222" font-style="italic">q</text><text x="304.0" y="239.0" font-size="5.6" fill="#222" textLength="13.1" lengthAdjust="spacingAndGlyphs">= 0.1</text>
<text x="301.70" y="72.00" font-size="6.8" textLength="25.50" lengthAdjust="spacingAndGlyphs">Pathway</text>
<circle cx="303.0" cy="79.20" r="1.15" fill="#c8102e"/>
<text x="307.70" y="80.80" font-size="6.1" textLength="27.95" lengthAdjust="spacingAndGlyphs">Amino acid</text>
<circle cx="303.0" cy="89.23" r="1.15" fill="#1d5b98"/>
<text x="307.70" y="90.83" font-size="6.1" textLength="34.23" lengthAdjust="spacingAndGlyphs">Carbohydrate</text>
<circle cx="303.0" cy="99.26" r="1.15" fill="#3db54a"/>
<text x="307.70" y="100.86" font-size="6.1" textLength="57.46" lengthAdjust="spacingAndGlyphs">Cofactors and vitamins</text>
<circle cx="303.0" cy="109.29" r="1.15" fill="#5e2a8c"/>
<text x="307.70" y="110.89" font-size="6.1" textLength="17.90" lengthAdjust="spacingAndGlyphs">Energy</text>
<circle cx="303.0" cy="119.32" r="1.15" fill="#ff9000"/>
<text x="307.70" y="120.92" font-size="6.1" textLength="11.94" lengthAdjust="spacingAndGlyphs">Lipid</text>
<circle cx="303.0" cy="129.35" r="1.15" fill="#006b4f"/>
<text x="307.70" y="130.95" font-size="6.1" textLength="26.70" lengthAdjust="spacingAndGlyphs">Nucleotide</text>
<circle cx="303.0" cy="139.38" r="1.15" fill="#8b80c4"/>
<text x="307.70" y="140.98" font-size="6.1" textLength="82.58" lengthAdjust="spacingAndGlyphs">Partially characterized molecules</text>
<circle cx="303.0" cy="149.41" r="1.15" fill="#465266"/>
<text x="307.70" y="151.01" font-size="6.1" textLength="19.16" lengthAdjust="spacingAndGlyphs">Peptide</text>
<circle cx="303.0" cy="159.44" r="1.15" fill="#29a8e0"/>
<text x="307.70" y="161.04" font-size="6.1" textLength="29.21" lengthAdjust="spacingAndGlyphs">Xenobiotics</text>
<text x="461.80" y="66.60" font-size="5.9" textLength="40.00" lengthAdjust="spacingAndGlyphs">p-cresol sulfate</text>
<line x1="486.20" y1="53.80" x2="487.50" y2="60.00" stroke="#222" stroke-width="0.7"/>
<text x="461.80" y="138.60" font-size="5.9" textLength="42.00" lengthAdjust="spacingAndGlyphs">3-indoxyl sulfate</text>
<line x1="480.50" y1="125.80" x2="482.50" y2="132.50" stroke="#222" stroke-width="0.7"/>
<text x="376.10" y="169.20" font-size="5.9" textLength="60.60" lengthAdjust="spacingAndGlyphs">6-hydroxyindole sulfate</text>
<line x1="442.50" y1="170.00" x2="451.20" y2="176.80" stroke="#222" stroke-width="0.7"/>
<g stroke="#c4c4c4" stroke-width="1.25"><line x1="128.5" y1="459.8" x2="119.0" y2="367.8"/><line x1="128.5" y1="459.8" x2="174.8" y2="351.9"/><line x1="128.5" y1="459.8" x2="64.6" y2="426.7"/><line x1="128.5" y1="459.8" x2="208.8" y2="419.8"/><line x1="128.5" y1="459.8" x2="51.2" y2="500.6"/><line x1="128.5" y1="459.8" x2="66.2" y2="552.0"/><line x1="302.3" y1="444.2" x2="252.8" y2="354.1"/><line x1="302.3" y1="444.2" x2="311.9" y2="366.2"/><line x1="302.3" y1="444.2" x2="372.6" y2="435.1"/><line x1="302.3" y1="444.2" x2="384.6" y2="505.0"/><line x1="263.8" y1="554.5" x2="328.1" y2="479.8"/><line x1="263.8" y1="554.5" x2="207.9" y2="472.7"/><line x1="263.8" y1="554.5" x2="374.5" y2="540.3"/><line x1="263.8" y1="554.5" x2="231.9" y2="659.6"/><line x1="263.8" y1="554.5" x2="166.9" y2="637.3"/><line x1="200.8" y1="585.8" x2="104.5" y2="553.1"/><line x1="200.8" y1="585.8" x2="100.0" y2="611.2"/><line x1="200.8" y1="585.8" x2="326.8" y2="591.8"/><line x1="200.8" y1="585.8" x2="291.5" y2="642.5"/></g>
<circle cx="119.0" cy="367.8" r="1.7" fill="#b5091c"/>
<circle cx="174.8" cy="351.9" r="1.35" fill="#f29475"/>
<circle cx="64.6" cy="426.7" r="1.35" fill="#f29475"/>
<circle cx="208.8" cy="419.8" r="1.35" fill="#f29475"/>
<circle cx="51.2" cy="500.6" r="1.35" fill="#f29475"/>
<circle cx="66.2" cy="552.0" r="1.35" fill="#f29475"/>
<circle cx="252.8" cy="354.1" r="1.5" fill="#b5091c"/>
<circle cx="311.9" cy="366.2" r="1.5" fill="#b5091c"/>
<circle cx="372.6" cy="435.1" r="1.5" fill="#b5091c"/>
<circle cx="384.6" cy="505.0" r="1.35" fill="#f29475"/>
<circle cx="328.1" cy="479.8" r="1.8" fill="#b5091c"/>
<circle cx="207.9" cy="472.7" r="1.35" fill="#f29475"/>
<circle cx="374.5" cy="540.3" r="1.35" fill="#f29475"/>
<circle cx="231.9" cy="659.6" r="1.5" fill="#b5091c"/>
<circle cx="166.9" cy="637.3" r="1.35" fill="#f29475"/>
<circle cx="104.5" cy="553.1" r="1.35" fill="#f29475"/>
<circle cx="100.0" cy="611.2" r="1.35" fill="#f29475"/>
<circle cx="326.8" cy="591.8" r="1.35" fill="#f29475"/>
<circle cx="291.5" cy="642.5" r="1.35" fill="#f29475"/>
<text x="112.50" y="366.00" font-size="8.3" textLength="25.80" lengthAdjust="spacingAndGlyphs" fill="#c8102e">M6422</text>
<text x="158.50" y="360.10" font-size="8.3" textLength="25.80" lengthAdjust="spacingAndGlyphs" fill="#1a5a90">M6445</text>
<text x="57.90" y="424.20" font-size="8.3" textLength="25.80" lengthAdjust="spacingAndGlyphs" fill="#1a5a90">M6447</text>
<text x="202.10" y="416.90" font-size="8.3" textLength="25.80" lengthAdjust="spacingAndGlyphs" fill="#1a5a90">M6448</text>
<text x="45.00" y="497.90" font-size="8.3" textLength="25.80" lengthAdjust="spacingAndGlyphs" fill="#1a5a90">M6446</text>
<text x="68.10" y="546.20" font-size="8.3" textLength="25.80" lengthAdjust="spacingAndGlyphs" fill="#1a5a90">M6449</text>
<text x="235.30" y="363.20" font-size="8.3" textLength="25.80" lengthAdjust="spacingAndGlyphs" fill="#c8102e">M3342</text>
<text x="305.70" y="363.20" font-size="8.3" textLength="25.80" lengthAdjust="spacingAndGlyphs" fill="#c8102e">M3368</text>
<text x="366.60" y="432.30" font-size="8.3" textLength="25.80" lengthAdjust="spacingAndGlyphs" fill="#c8102e">M3350</text>
<text x="376.50" y="502.00" font-size="8.3" textLength="25.80" lengthAdjust="spacingAndGlyphs" fill="#c8102e">M3337</text>
<text x="310.80" y="488.80" font-size="8.3" textLength="25.80" lengthAdjust="spacingAndGlyphs" fill="#c8102e">M4552</text>
<text x="201.70" y="469.80" font-size="8.3" textLength="25.80" lengthAdjust="spacingAndGlyphs" fill="#c8102e">M4501</text>
<text x="361.80" y="536.00" font-size="8.3" textLength="25.80" lengthAdjust="spacingAndGlyphs" fill="#c8102e">M4462</text>
<text x="215.40" y="667.40" font-size="8.3" textLength="25.80" lengthAdjust="spacingAndGlyphs" fill="#c8102e">M4505</text>
<text x="160.80" y="634.00" font-size="8.3" textLength="25.80" lengthAdjust="spacingAndGlyphs" fill="#c8102e">M4498</text>
<text x="98.10" y="550.00" font-size="8.3" textLength="25.80" lengthAdjust="spacingAndGlyphs" fill="#c8102e">M3540</text>
<text x="83.80" y="619.00" font-size="8.3" textLength="25.80" lengthAdjust="spacingAndGlyphs" fill="#c8102e">M3500</text>
<text x="320.00" y="589.00" font-size="8.3" textLength="25.80" lengthAdjust="spacingAndGlyphs" fill="#c8102e">M3502</text>
<text x="285.00" y="639.50" font-size="8.3" textLength="25.80" lengthAdjust="spacingAndGlyphs" fill="#c8102e" stroke="#c8102e" stroke-width="0.3">M3490</text>
<circle cx="128.5" cy="459.8" r="2.8" fill="#f7b400"/>
<circle cx="302.3" cy="444.2" r="1.3" fill="#f7b400"/>
<circle cx="263.8" cy="554.5" r="2.5" fill="#f7b400"/>
<circle cx="200.8" cy="585.8" r="1.4" fill="#f7b400"/>
<text x="77.30" y="456.50" font-size="8.3" textLength="117.70" lengthAdjust="spacingAndGlyphs" font-style="italic">Partially Characterized Molecules</text>
<text x="263.10" y="452.50" font-size="8.3" textLength="72.60" lengthAdjust="spacingAndGlyphs" font-style="italic">Androgenic Steroids</text>
<text x="222.30" y="561.80" font-size="8.3" textLength="77.20" lengthAdjust="spacingAndGlyphs" font-style="italic">Benzoate Metabolism</text>
<text x="141.20" y="593.60" font-size="8.3" textLength="116.00" lengthAdjust="spacingAndGlyphs" font-style="italic">Secondary Bile Acid Metabolism</text>
<defs><linearGradient id="cb" x1="0" y1="0" x2="0" y2="1"><stop offset="0" stop-color="#e62a1f"/><stop offset="1" stop-color="#f7ab9b"/></linearGradient></defs>
<text x="405.00" y="510.20" font-size="6.9" textLength="100.50" lengthAdjust="spacingAndGlyphs">Color code for metabolite circles</text>
<text x="405.0" y="519.3" font-size="6.9" fill="#222">-log10(<tspan font-style="italic">q</tspan> value)</text>
<rect x="405.5" y="526.7" width="9.5" height="48.2" fill="url(#cb)"/>
<line x1="405.50" y1="528.80" x2="407.30" y2="528.80" stroke="#fff" stroke-width="0.6"/>
<line x1="413.20" y1="528.80" x2="415.00" y2="528.80" stroke="#fff" stroke-width="0.6"/>
<text x="418.00" y="530.90" font-size="5.6">3.5</text>
<line x1="405.50" y1="540.00" x2="407.30" y2="540.00" stroke="#fff" stroke-width="0.6"/>
<line x1="413.20" y1="540.00" x2="415.00" y2="540.00" stroke="#fff" stroke-width="0.6"/>
<text x="418.00" y="542.10" font-size="5.6">3.0</text>
<line x1="405.50" y1="550.50" x2="407.30" y2="550.50" stroke="#fff" stroke-width="0.6"/>
<line x1="413.20" y1="550.50" x2="415.00" y2="550.50" stroke="#fff" stroke-width="0.6"/>
<text x="418.00" y="552.60" font-size="5.6">2.5</text>
<line x1="405.50" y1="561.30" x2="407.30" y2="561.30" stroke="#fff" stroke-width="0.6"/>
<line x1="413.20" y1="561.30" x2="415.00" y2="561.30" stroke="#fff" stroke-width="0.6"/>
<text x="418.00" y="563.40" font-size="5.6">2.0</text>
<line x1="405.50" y1="572.00" x2="407.30" y2="572.00" stroke="#fff" stroke-width="0.6"/>
<line x1="413.20" y1="572.00" x2="415.00" y2="572.00" stroke="#fff" stroke-width="0.6"/>
<text x="418.00" y="574.10" font-size="5.6">1.5</text>
<text x="345.90" y="619.90" font-size="5.8" textLength="76.10" lengthAdjust="spacingAndGlyphs">Color code for metabolite IDs</text>
<text x="345.90" y="629.10" font-size="5.8" textLength="96.90" lengthAdjust="spacingAndGlyphs" fill="#c8102e">Positive association with Akkermansia</text>
<text x="345.90" y="637.10" font-size="5.8" textLength="99.70" lengthAdjust="spacingAndGlyphs" fill="#1a5a90">Negative association with Akkermansia</text>
<rect x="0" y="0" width="520" height="1.3" fill="#000"/><rect x="0" y="0" width="1.2" height="675" fill="#000"/><rect x="518.7" y="0" width="1.3" height="675" fill="#000"/><rect x="0" y="673.7" width="520" height="1.3" fill="#000"/>
</svg>
</body></html>
